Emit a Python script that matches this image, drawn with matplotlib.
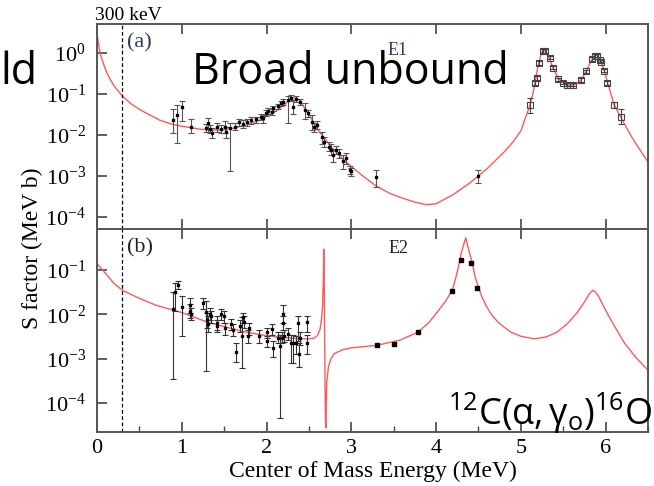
import numpy as np
import matplotlib
matplotlib.use("Agg")
import matplotlib.pyplot as plt
from matplotlib.ticker import LogLocator, LogFormatterMathtext, MultipleLocator, NullLocator

plt.rcParams['font.family'] = ['Liberation Serif', 'DejaVu Serif']
plt.rcParams['mathtext.fontset'] = 'custom'
plt.rcParams['mathtext.rm'] = 'Liberation Serif'
plt.rcParams['mathtext.it'] = 'Liberation Serif:italic'
plt.rcParams['mathtext.sf'] = 'Open Sans'

# ---- E1 R-matrix curve (MeV, MeV b)
e1_curve_x = [0.0, 0.035, 0.07, 0.11, 0.16, 0.21, 0.3, 0.4, 0.51, 0.62, 0.74, 0.86, 0.98,
              1.1, 1.22, 1.35, 1.45, 1.6, 1.75, 1.92, 2.02, 2.12, 2.2, 2.27, 2.32, 2.36,
              2.4, 2.45, 2.5, 2.55, 2.6, 2.7, 2.8, 2.9, 3.0, 3.15, 3.3, 3.45, 3.6, 3.75,
              3.88, 4.0, 4.2, 4.4, 4.6, 4.8, 4.9, 5.0, 5.05, 5.1, 5.15, 5.2, 5.24, 5.27,
              5.3, 5.34, 5.38, 5.44, 5.5, 5.58, 5.65, 5.71, 5.77, 5.84, 5.89, 5.93, 5.98,
              6.02, 6.1, 6.18, 6.3, 6.4, 6.5]
e1_curve_s = [3.0, 1.0, 0.6, 0.35, 0.22, 0.15, 0.089, 0.058, 0.041, 0.031, 0.023, 0.019, 0.0166,
              0.0152, 0.0138, 0.0133, 0.0132, 0.0145, 0.0175, 0.023, 0.03, 0.039, 0.053, 0.07, 0.08, 0.078,
              0.065, 0.045, 0.031, 0.021, 0.014, 0.0075, 0.0042, 0.0026, 0.0017, 0.00095, 0.00056, 0.00038, 0.00029, 0.00023,
              0.0002, 0.00021, 0.00035, 0.00068, 0.0015, 0.0038, 0.0065, 0.0125, 0.025, 0.048, 0.12, 0.45, 0.95, 1.2,
              1.05, 0.7, 0.43, 0.25, 0.185, 0.16, 0.175, 0.22, 0.36, 0.7, 0.9, 0.75, 0.4,
              0.2, 0.055, 0.027, 0.0095, 0.0045, 0.0022]

# ---- E1 data, low energy (value, lower and upper end of error bar)
e1_x = [0.90, 0.94, 1.00, 1.11, 1.28, 1.31, 1.33, 1.36, 1.42, 1.46, 1.51, 1.52, 1.57, 1.63,
        1.68, 1.72, 1.77, 1.82, 1.87, 1.93, 1.96, 1.99, 2.02, 2.07, 2.08, 2.13, 2.17, 2.20,
        2.25, 2.29, 2.31, 2.35, 2.39, 2.45, 2.49, 2.54, 2.56, 2.60, 2.66, 2.68, 2.74, 2.76,
        2.78, 2.82, 2.86, 2.90, 2.94, 2.98, 3.00, 3.29, 4.49]
e1_s = [0.023, 0.031, 0.047, 0.016, 0.015, 0.0195, 0.014, 0.011, 0.016, 0.014, 0.016, 0.012, 0.0148, 0.016,
        0.021, 0.019, 0.021, 0.023, 0.024, 0.028, 0.026, 0.035, 0.039, 0.037, 0.045, 0.05, 0.059, 0.065,
        0.071, 0.08, 0.049, 0.075, 0.065, 0.041, 0.034, 0.021, 0.016, 0.018, 0.0091, 0.0069, 0.0052, 0.0044,
        0.0033, 0.0044, 0.0036, 0.0023, 0.0028, 0.0014, 0.0013, 0.00095, 0.0010]
e1_lo = [0.011, 0.0064, 0.022, 0.011, 0.012, 0.012, 0.011, 0.0085, 0.012, 0.011, 0.011, 0.0085, 0.0013, 0.013,
         0.017, 0.015, 0.017, 0.019, 0.02, 0.023, 0.02, 0.029, 0.033, 0.031, 0.038, 0.043, 0.05, 0.055,
         0.0195, 0.068, 0.032, 0.064, 0.055, 0.025, 0.028, 0.013, 0.012, 0.014, 0.006, 0.005, 0.004, 0.0032,
         0.0022, 0.0034, 0.0028, 0.0015, 0.002, 0.0011, 0.001, 0.00053, 0.00068]
e1_hi = [0.043, 0.054, 0.069, 0.025, 0.019, 0.026, 0.018, 0.015, 0.02, 0.018, 0.022, 0.016, 0.02, 0.02,
         0.025, 0.023, 0.025, 0.027, 0.028, 0.033, 0.031, 0.041, 0.045, 0.043, 0.052, 0.058, 0.068, 0.075,
         0.09, 0.092, 0.07, 0.087, 0.075, 0.06, 0.04, 0.03, 0.02, 0.022, 0.012, 0.009, 0.0066, 0.006,
         0.0045, 0.0055, 0.0045, 0.0032, 0.0036, 0.0018, 0.0016, 0.0014, 0.0014]

# ---- E1 data, resonance region (open squares)
e1r_x = [5.11, 5.17, 5.19, 5.21, 5.26, 5.28, 5.34, 5.38, 5.44, 5.50, 5.55, 5.58, 5.62,
         5.71, 5.77, 5.84, 5.87, 5.90, 5.93, 5.95, 5.98, 6.02, 6.10, 6.18]
e1r_s = [0.054, 0.19, 0.25, 0.58, 1.14, 1.1, 0.76, 0.43, 0.23, 0.19, 0.17, 0.17, 0.17,
         0.22, 0.36, 0.71, 0.85, 0.85, 0.66, 0.61, 0.37, 0.19, 0.054, 0.028]
e1r_lo = [0.035, 0.17, 0.22, 0.52, 1.02, 0.98, 0.7, 0.4, 0.21, 0.175, 0.155, 0.155, 0.155,
          0.2, 0.33, 0.65, 0.78, 0.78, 0.6, 0.56, 0.34, 0.17, 0.045, 0.019]
e1r_hi = [0.08, 0.21, 0.28, 0.64, 1.27, 1.22, 0.83, 0.47, 0.25, 0.205, 0.185, 0.185, 0.185,
          0.24, 0.39, 0.78, 0.93, 0.93, 0.72, 0.67, 0.4, 0.21, 0.064, 0.042]

# ---- E2 R-matrix curve
e2_curve_x = [0.0, 0.1, 0.2, 0.3, 0.5, 0.7, 1.0, 1.3, 1.5, 1.75, 2.0, 2.2, 2.4, 2.5,
              2.56, 2.6, 2.63, 2.65, 2.66, 2.67, 2.675, 2.68, 2.685, 2.69, 2.695, 2.70,
              2.705, 2.71, 2.73, 2.76, 2.8, 2.9, 3.0, 3.3, 3.57, 3.79, 3.92, 4.03, 4.12, 4.19,
              4.22, 4.26, 4.30, 4.35, 4.38, 4.43, 4.46, 4.5, 4.54, 4.6, 4.66, 4.73, 4.8, 4.89,
              5.0, 5.16, 5.3, 5.43, 5.55, 5.62, 5.67, 5.75, 5.81, 5.85, 5.88, 5.92, 5.99,
              6.1, 6.22, 6.35, 6.45, 6.5]
e2_curve_s = [0.14, 0.085, 0.05, 0.035, 0.023, 0.016, 0.011, 0.0067, 0.0053, 0.004, 0.0033, 0.003, 0.0028, 0.0028,
              0.0029, 0.0033, 0.0045, 0.008, 0.015, 0.06, 0.3, 0.08, 0.004, 0.0003, 4e-5, 2.7e-5,
              1e-4, 3e-4, 6.5e-4, 1.0e-3, 1.3e-3, 1.6e-3, 1.75e-3, 2.0e-3, 2.6e-3, 4.0e-3, 0.0067, 0.0123, 0.021, 0.035,
              0.054, 0.11, 0.26, 0.54, 0.31, 0.14, 0.07, 0.042, 0.025, 0.0145, 0.0095, 0.0067, 0.0052, 0.0039,
              0.0032, 0.0028, 0.0031, 0.004, 0.0062, 0.0088, 0.0113, 0.019, 0.0295, 0.035, 0.032, 0.025, 0.0134,
              0.0056, 0.0023, 0.0011, 0.00069, 0.00055]

# ---- E2 data
e2_x = [0.90, 0.92, 0.95, 1.00, 1.10, 1.10, 1.11, 1.25, 1.29, 1.30, 1.31, 1.33, 1.35, 1.41,
        1.42, 1.46, 1.50, 1.51, 1.58, 1.60, 1.64, 1.69, 1.71, 1.72, 1.73, 1.78, 1.79, 1.91,
        2.00, 2.00, 2.06, 2.08, 2.14, 2.16, 2.18, 2.20, 2.20, 2.21, 2.25, 2.29, 2.31, 2.35,
        2.37, 2.38, 2.40, 2.48, 2.48]
e2_s = [0.0135, 0.032, 0.046, 0.0147, 0.016, 0.012, 0.010, 0.018, 0.0115, 0.0073, 0.006, 0.010, 0.009, 0.0064,
        0.0055, 0.010, 0.0093, 0.0048, 0.006, 0.0045, 0.0014, 0.0056, 0.0033, 0.0088, 0.0066, 0.0033, 0.0048, 0.0033,
        0.0025, 0.004, 0.0047, 0.0017, 0.003, 0.0019, 0.003, 0.0104, 0.0065, 0.0033, 0.0036, 0.0023, 0.0023, 0.0022,
        0.0065, 0.0013, 0.0029, 0.0066, 0.0023]
e2_lo = [0.00035, 0.012, 0.038, 0.0032, 0.011, 0.0085, 0.0075, 0.013, 0.00052, 0.005, 0.004, 0.0075, 0.0065, 0.0045,
         0.004, 0.0075, 0.0065, 0.0035, 0.0045, 0.0033, 0.00085, 0.004, 0.0006, 0.0065, 0.005, 0.0023, 0.0035, 0.0023,
         0.0018, 0.003, 0.0035, 0.0011, 0.0022, 0.000046, 0.0022, 0.0065, 0.0045, 0.0024, 0.0026, 0.0008, 0.0008, 0.0013,
         0.0025, 0.00065, 0.002, 0.004, 0.0013]
e2_hi = [0.032, 0.05, 0.058, 0.026, 0.023, 0.017, 0.014, 0.024, 0.02, 0.011, 0.009, 0.014, 0.012, 0.009,
         0.0075, 0.013, 0.012, 0.0065, 0.008, 0.006, 0.0022, 0.0075, 0.0088, 0.011, 0.009, 0.0045, 0.0065, 0.0045,
         0.0033, 0.005, 0.006, 0.0025, 0.004, 0.0035, 0.004, 0.016, 0.009, 0.0045, 0.005, 0.0035, 0.0035, 0.0033,
         0.009, 0.0022, 0.004, 0.009, 0.0035]

e2h_x = [3.30, 3.50, 3.79, 4.19, 4.29, 4.41, 4.48]
e2h_s = [0.0020, 0.0021, 0.0041, 0.033, 0.17, 0.147, 0.040]

threshold = 0.3   # MeV


def yerr(s, lo, hi):
    s = np.array(s)
    return [s - np.array(lo), np.array(hi) - s]


fig = plt.figure(figsize=(6.54, 4.86), dpi=100)
ax1 = fig.add_axes([97/654, 1 - 229/486, 551/654, 205/486])
ax2 = fig.add_axes([97/654, 1 - 432/486, 551/654, 203/486], sharex=ax1)

red = '#ff5a5a'
ax1.plot(e1_curve_x, e1_curve_s, color=red, lw=1.0, zorder=2)
ax1.errorbar(e1_x, e1_s, yerr=yerr(e1_s, e1_lo, e1_hi), fmt='s', ms=2.0, color='black',
             ecolor='#555555', elinewidth=0.8, capsize=2, capthick=0.8, zorder=3)
ax1.errorbar(e1r_x, e1r_s, yerr=yerr(e1r_s, e1r_lo, e1r_hi), fmt='s', ms=5, mfc='none',
             mec='#444444', mew=0.8, ecolor='#444444', elinewidth=0.8, capsize=2, capthick=0.8, zorder=3)

ax2.plot(e2_curve_x, e2_curve_s, color=red, lw=1.0, zorder=2)
ax2.errorbar(e2_x, e2_s, yerr=yerr(e2_s, e2_lo, e2_hi), fmt='s', ms=2.0, color='black',
             ecolor='#333333', elinewidth=0.8, capsize=2, capthick=0.8, zorder=3)
ax2.plot(e2h_x, e2h_s, 's', ms=2.2, color='black', zorder=3)

for ax in (ax1, ax2):
    ax.set_yscale('log')
    ax.axvline(threshold, color='black', ls=(0, (3, 2)), lw=0.9)
    ax.yaxis.set_major_locator(LogLocator(base=10, numticks=10))
    ax.yaxis.set_major_formatter(LogFormatterMathtext())
    ax.yaxis.set_minor_locator(NullLocator())
    ax.tick_params(which='major', direction='in', length=7, width=1.2, color='#444444',
                   labelsize=16, pad=8, top=True, right=False)
    ax.tick_params(which='minor', direction='in', length=4, width=1.0, color='#444444')
    for sp in ax.spines.values():
        sp.set_color('#555555')
        sp.set_linewidth(1.4)

ax1.set_xlim(0, 6.5)
ax1.set_ylim(5.1e-5, 5.1)
ax2.set_ylim(2.2e-5, 0.85)
ax1.set_yticks([1e-4, 1e-3, 1e-2, 1e-1, 1e0])
ax2.set_yticks([1e-4, 1e-3, 1e-2, 1e-1])
ax2.xaxis.set_major_locator(MultipleLocator(1))
ax2.xaxis.set_minor_locator(MultipleLocator(0.5))
ax1.tick_params(axis='x', which='minor', bottom=False, top=False)
ax2.tick_params(axis='x', which='minor', top=False)
ax2.tick_params(axis='x', labelsize=16, pad=5)
plt.setp(ax1.get_xticklabels(), visible=False)

ax1.text(0.054, 0.91, '(a)', transform=ax1.transAxes, fontsize=16, color='#2c3a5c', va='center')
ax1.text(0.545, 0.87, 'E1', transform=ax1.transAxes, fontsize=13, color='#2c3a5c', ha='center', va='center')
ax2.text(0.054, 0.905, '(b)', transform=ax2.transAxes, fontsize=16, color='#222222', va='center')
ax2.text(0.548, 0.905, 'E2', transform=ax2.transAxes, fontsize=13, color='#222222', ha='center', va='center')

ax2.set_xlabel('Center of Mass Energy (MeV)', fontsize=17, labelpad=2)
fig.text(0.05, 1 - 248/486, 'S factor (MeV b)', rotation=90, fontsize=17, ha='center', va='center')
fig.text(95/654, 1 - 20/486, '300 keV', fontsize=14, ha='left', va='baseline')

# overlaid annotations
fig.text(0.0, 1 - 84/486, 'ld', fontsize=31, family='Open Sans', ha='left', va='baseline')
fig.text(192/654, 1 - 84/486, 'Broad unbound', fontsize=31, family='Open Sans', ha='left', va='baseline')
fig.text(652/654, 1 - 425/486, r'$\mathsf{^{12}C(\alpha,\gamma_o)^{16}O}$', fontsize=26,
         ha='right', va='baseline')

fig.savefig('out.png', dpi=100)
